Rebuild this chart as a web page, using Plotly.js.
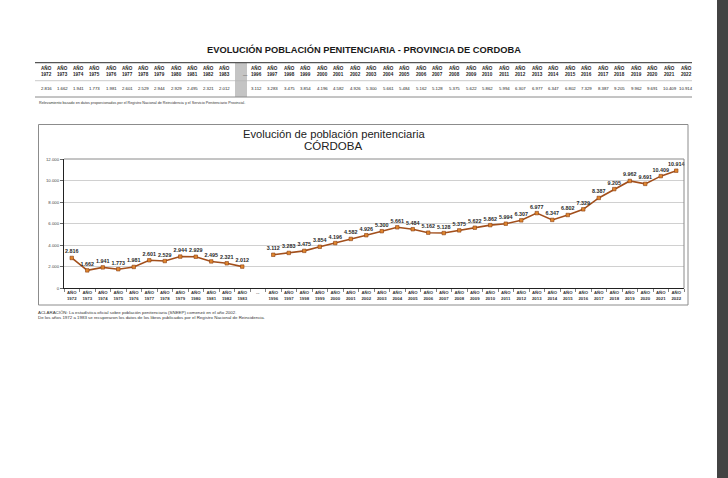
<!DOCTYPE html>
<html>
<head>
<meta charset="utf-8">
<script src="https://cdn.plot.ly/plotly-3.0.1.min.js"></script>
<style>html,body{margin:0;padding:0;background:#fff;}#chart{width:728px;height:478px;}</style>
</head>
<body>
<div id="chart"></div>
<script>
// ---- data ----
const yearsA = ['1972','1973','1974','1975','1976','1977','1978','1979','1980','1981','1982','1983'];
const valuesA = [2816, 1662, 1941, 1773, 1981, 2601, 2529, 2944, 2929, 2495, 2321, 2012];
const gapLabel = '...';
const yearsB = ['1996','1997','1998','1999','2000','2001','2002','2003','2004','2005','2006','2007','2008','2009','2010','2011','2012','2013','2014','2015','2016','2017','2018','2019','2020','2021','2022'];
const valuesB = [3112, 3283, 3475, 3854, 4196, 4582, 4926, 5300, 5661, 5484, 5162, 5128, 5375, 5622, 5862, 5994, 6307, 6977, 6347, 6802, 7329, 8387, 9205, 9962, 9691, 10409, 10914];
const mainTitle = 'EVOLUCIÓN POBLACIÓN PENITENCIARIA - PROVINCIA DE CORDOBA';
const chartTitle1 = 'Evolución de población penitenciaria';
const chartTitle2 = 'CÓRDOBA';
const tableNote = 'Relevamiento basado en datos proporcionados por el Registro Nacional de Reincidencia y el Servicio Penitenciario Provincial.';
const foot1 = 'ACLARACIÓN: La estadística oficial sobre población penitenciaria (SNEEP) comenzó en el año 2002.';
const foot2 = 'De los años 1972 a 1983 se recuperaron los datos de los libros publicados por el Registro Nacional de Reincidencia.';
const yearPrefix = 'AÑO';

// ---- helpers ----
const W = 728, H = 478;
const px = x => x / W;
const py = y => 1 - y / H;
const fmt = v => String(v).replace(/\B(?=(\d{3})+(?!\d))/g, '.');

const cats = yearsA.concat([gapLabel], yearsB);
const yvals = valuesA.concat([null], valuesB);
const tickText = cats.map(c => c === gapLabel ? '...' : yearPrefix + '<br>' + c);

const FONT = 'Liberation Sans, Arial, sans-serif';

const trace = {
  type: 'scatter',
  mode: 'lines+markers+text',
  x: cats,
  y: yvals,
  connectgaps: false,
  line: {color: '#a24f1c', width: 1.6},
  marker: {symbol: 'square', size: 3.5, color: '#e0862e', line: {color: '#8a4015', width: 0.6}},
  texttemplate: '%{y:,}',
  textposition: 'top center',
  textfont: {family: FONT, size: 5.4, color: '#2a2a2a', weight: 'bold'},
  hoverinfo: 'skip',
  cliponaxis: false
};

const annotations = [];
const shapes = [];

// main title
annotations.push({xref:'paper', yref:'paper', x: px(364), y: py(49), text: mainTitle, showarrow:false,
  xanchor:'center', yanchor:'middle', font:{family: FONT, size: 9.3, color:'#1a1a1a', weight:'bold'}});

// table
const colX = [];
yearsA.forEach((y, i) => colX.push(46 + i * 16.27));
const gapX = 241;
yearsB.forEach((y, j) => colX.push(256 + j * 16.54));
const tableYears = yearsA.concat(yearsB);
const tableVals = valuesA.concat(valuesB);

shapes.push({type:'rect', xref:'paper', yref:'paper', x0: px(235), x1: px(247), y0: py(63), y1: py(97),
  fillcolor:'#c4c4c4', line:{width:0}, layer:'below'});
annotations.push({xref:'paper', yref:'paper', x: px(gapX), y: py(71), text: '—', showarrow:false,
  font:{family: FONT, size: 4.5, color:'#555'}});
tableYears.forEach((yr, k) => {
  annotations.push({xref:'paper', yref:'paper', x: px(colX[k]), y: py(71), text: yearPrefix + '<br>' + yr,
    showarrow:false, xanchor:'center', yanchor:'middle',
    font:{family: FONT, size: 4.6, color:'#222', weight:'bold'}});
  annotations.push({xref:'paper', yref:'paper', x: px(colX[k]), y: py(88.5), text: fmt(tableVals[k]),
    showarrow:false, xanchor:'center', yanchor:'middle',
    font:{family: FONT, size: 4.3, color:'#222'}});
});
shapes.push({type:'line', xref:'paper', yref:'paper', x0: px(35), x1: px(692), y0: py(62.7), y1: py(62.7), line:{color:'#555', width:1.2}});
shapes.push({type:'line', xref:'paper', yref:'paper', x0: px(35), x1: px(692), y0: py(80.7), y1: py(80.7), line:{color:'#b5b5b5', width:0.7}});
shapes.push({type:'line', xref:'paper', yref:'paper', x0: px(35), x1: px(692), y0: py(97), y1: py(97), line:{color:'#8a8a8a', width:1}});
annotations.push({xref:'paper', yref:'paper', x: px(37), y: py(102.7), text: tableNote, showarrow:false,
  xanchor:'left', yanchor:'middle', font:{family: FONT, size: 3.7, color:'#333'}});

// chart frame
shapes.push({type:'rect', xref:'paper', yref:'paper', x0: px(38.5), x1: px(688), y0: py(124.5), y1: py(305),
  line:{color:'#8c8c8c', width:1}, fillcolor:'rgba(0,0,0,0)'});
// plot box top/right
shapes.push({type:'line', xref:'paper', yref:'paper', x0: px(64), x1: px(684), y0: py(159), y1: py(159), line:{color:'#8a8a8a', width:1}});
shapes.push({type:'line', xref:'paper', yref:'paper', x0: px(684), x1: px(684), y0: py(159), y1: py(288.3), line:{color:'#8a8a8a', width:1}});

annotations.push({xref:'paper', yref:'paper', x: px(334), y: py(134), text: chartTitle1, showarrow:false,
  xanchor:'center', yanchor:'middle', font:{family: FONT, size: 11.2, color:'#222'}});
annotations.push({xref:'paper', yref:'paper', x: px(333), y: py(146), text: chartTitle2, showarrow:false,
  xanchor:'center', yanchor:'middle', font:{family: FONT, size: 11.5, color:'#222'}});

// footnotes
annotations.push({xref:'paper', yref:'paper', x: px(36), y: py(312.7), text: foot1, showarrow:false,
  xanchor:'left', yanchor:'middle', font:{family: FONT, size: 4.4, color:'#333'}});
annotations.push({xref:'paper', yref:'paper', x: px(36), y: py(317.6), text: foot2, showarrow:false,
  xanchor:'left', yanchor:'middle', font:{family: FONT, size: 4.4, color:'#333'}});

// right dark strip
shapes.push({type:'rect', xref:'paper', yref:'paper', x0: px(717), x1: px(728), y0: 0, y1: 1,
  fillcolor:'#434343', line:{width:0}});

const layout = {
  width: W, height: H,
  margin: {l:0, r:0, t:0, b:0},
  paper_bgcolor: '#ffffff', plot_bgcolor: '#ffffff',
  separators: ',.',
  showlegend: false,
  xaxis: {
    type: 'category', categoryorder: 'array', categoryarray: cats,
    tickvals: cats, ticktext: tickText, tickangle: 0,
    range: [-0.5, cats.length - 0.5],
    domain: [px(64), px(684)],
    showgrid: false, zeroline: false,
    showline: true, linecolor: '#222', linewidth: 1,
    ticks: 'outside', tickson: 'boundaries', ticklen: 2.5, tickcolor: '#666', tickwidth: 0.8,
    tickfont: {family: FONT, size: 4.3, color: '#333', weight: 'bold'},
    fixedrange: true
  },
  yaxis: {
    range: [0, 12000], dtick: 2000, tickformat: ',d',
    domain: [py(288.3), py(159)],
    showgrid: true, gridcolor: '#c4c4c4', gridwidth: 0.8,
    zeroline: false,
    showline: true, linecolor: '#222', linewidth: 1,
    ticks: 'outside', ticklen: 3, tickcolor: '#444', tickwidth: 0.8,
    tickfont: {family: FONT, size: 4.3, color: '#444'},
    fixedrange: true
  },
  annotations: annotations,
  shapes: shapes
};

Plotly.newPlot('chart', [trace], layout, {displayModeBar: false, staticPlot: true});
</script>
</body>
</html>
